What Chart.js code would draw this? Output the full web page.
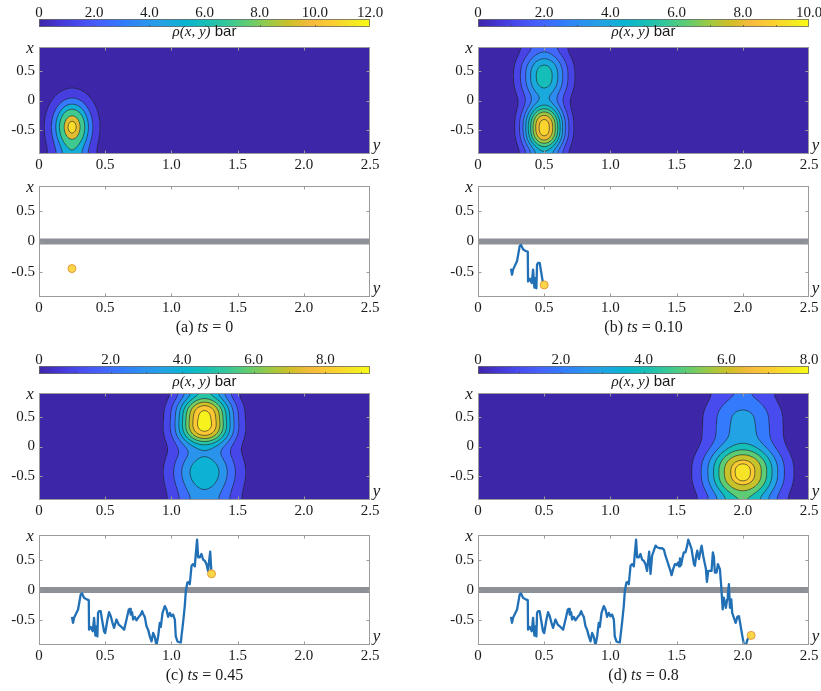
<!DOCTYPE html>
<html>
<head>
<meta charset="utf-8">
<script src="https://cdn.jsdelivr.net/npm/chart.js@4.4.1/dist/chart.umd.min.js"></script>
<style>
  html, body { margin: 0; padding: 0; background: #fff; overflow: hidden; }
  #fig { position: relative; width: 821px; height: 691px; overflow: hidden; }
  #fig canvas { position: absolute; }
</style>
</head>
<body>
<div id="fig"></div>
<script>
// ---- data ----
const panelTags = ['(a)', '(b)', '(c)', '(d)'];
const tsLabels = ['0', '0.10', '0.45', '0.8'];

// horizontal axis is labelled "y", vertical axis "x"
const yTicks = [0, 0.5, 1.0, 1.5, 2.0, 2.5];
const xTicks = [-0.5, 0, 0.5];
const yRange = [0, 2.5];
const xRange = [-0.92, 0.92];

// colour bars
const cbMax = [12, 10, 9.25, 8];
const cbTicks = [[0, 2, 4, 6, 8, 10, 12], [0, 2, 4, 6, 8, 10], [0, 2, 4, 6, 8], [0, 2, 4, 6, 8]];
const cbMinorStep = [2, 1, 1, 1];
const contourLevels = [
  [1, 3, 5, 7, 9.5, 11],
  [1, 2, 3, 4, 5, 6, 7, 8, 9],
  [1, 2, 3, 4, 5, 6, 7, 8, 9],
  [1, 2, 3, 4, 5, 6, 7, 7.5]
];

// density lobes rho(x, y): one entry per lobe
const blobPanel = [0, 1, 1, 2, 2, 3, 3];
const blobY     = [0.25, 0.5, 0.5, 1.25, 1.25, 2.0, 2.0];
const blobX     = [-0.45, -0.47, 0.42, 0.47, -0.42, -0.45, 0.42];
const blobAmp   = [11.5, 9.6, 5.6, 9.3, 4.75, 7.8, 3.3];
const blobSy    = [0.095, 0.105, 0.125, 0.145, 0.175, 0.19, 0.195];
const blobSx    = [0.30, 0.30, 0.33, 0.33, 0.36, 0.34, 0.36];
const blobPow   = [2, 2.5, 2.5, 3, 2, 2.5, 2.5];

// particle trajectory (full path, panel d)
const trajY = [0.249,0.257,0.265,0.295,0.315,0.325,0.340,0.360,0.376,0.378,0.391,0.406,0.416,0.426,0.434,0.441,0.446,0.454,0.466,0.476,0.491,0.500,
  0.517,0.529,0.542,0.555,0.567,0.585,0.602,0.623,0.643,0.661,0.678,0.688,0.693,0.703,0.711,0.723,0.736,0.754,0.769,0.779,0.789,0.799,0.812,0.824,0.837,0.850,0.862,0.875,0.887,0.900,0.912,0.920,0.933,0.950,0.963,0.975,0.988,1.000,1.013,1.026,1.033,1.046,1.056,1.071,1.076,1.088,1.101,1.109,1.121,1.131,1.139,1.152,1.164,1.177,1.182,1.194,1.202,1.215,1.227,1.240,1.252,1.265,1.277,1.285,1.293,1.303,
  1.315,1.328,1.341,1.353,1.373,1.391,1.404,1.416,1.429,1.441,1.454,1.462,1.474,1.487,1.500,1.512,1.519,1.525,1.534,1.545,1.555,1.567,1.580,1.588,1.600,1.613,1.621,1.631,1.638,1.648,1.656,1.669,1.681,1.689,1.701,1.711,1.721,1.729,1.739,1.751,1.764,1.774,1.782,1.789,1.802,1.812,1.827,1.837,1.848,1.857,1.872,1.882,1.887,1.895,1.903,1.913,1.920,1.933,1.946,1.959,1.971,1.984,1.997,2.010,2.022,2.035,2.048,2.063];
const trajX = [-0.449,-0.550,-0.466,-0.325,-0.073,-0.056,-0.130,-0.157,-0.169,-0.663,-0.618,-0.690,-0.466,-0.764,-0.607,-0.776,-0.382,-0.354,-0.354,-0.494,-0.690,-0.720,
  -0.494,-0.371,-0.438,-0.550,-0.634,-0.494,-0.578,-0.618,-0.663,-0.494,-0.325,-0.315,-0.410,-0.371,-0.494,-0.449,-0.506,-0.449,-0.410,-0.354,-0.410,-0.449,-0.607,-0.663,-0.776,-0.860,-0.718,-0.786,-0.930,-0.776,-0.550,-0.618,-0.382,-0.270,-0.325,-0.449,-0.382,-0.438,-0.410,-0.494,-0.776,-0.860,-0.870,-0.877,-0.776,-0.550,-0.270,-0.017,0.124,0.135,0.096,0.405,0.433,0.395,0.546,0.843,0.546,0.546,0.602,0.506,0.489,0.433,0.320,0.489,0.641,0.270,
  0.573,0.658,0.742,0.715,0.698,0.698,0.675,0.573,0.489,0.405,0.320,0.248,0.349,0.433,0.416,0.462,0.395,0.530,0.416,0.546,0.630,0.630,0.742,0.843,0.770,0.686,0.573,0.433,0.405,0.573,0.658,0.518,0.658,0.742,0.573,0.462,0.361,0.135,0.320,0.320,0.320,0.630,0.546,0.293,0.293,0.433,0.349,0.067,-0.325,-0.128,-0.297,-0.157,-0.073,0.096,-0.297,-0.157,-0.382,-0.466,-0.550,-0.449,-0.438,-0.607,-0.776,-0.930,-0.930,-0.831,-0.786,-0.759];

// particle position at each ts
const dotY = [0.249, 0.500, 1.303, 2.063];
const dotX = [-0.449, -0.720, 0.270, -0.759];

// membrane at x = 0
const wallY = [0, 2.5];
const wallX = [0, 0];

// ---- layout ----
const colLeft = [39, 478];
const plotW = 331;
const rowCbTop = [19, 366];
const rowContourTop = [47, 393];
const rowTrajTop = [186, 535];
const rowTrajH = [111, 110];
const cbLabelDrop = [9.3, 12.2];
const contourH = 107, cbH = 8;

const serifFamily = "'Liberation Serif', 'Times New Roman', serif";
const sansFamily = "'Liberation Sans', Arial, sans-serif";
Chart.defaults.font.family = serifFamily;

// parula colormap (MATLAB default), every 4th entry of the 64-colour table
const parulaRGB = [
  [0.2422,0.1504,0.6603],[0.2706,0.2147,0.8364],[0.2813,0.3006,0.9414],[0.2699,0.3892,0.9906],
  [0.1963,0.4847,0.9892],[0.1687,0.5703,0.9359],[0.1248,0.6459,0.8883],[0.0297,0.7082,0.8163],
  [0.0964,0.7500,0.7120],[0.2161,0.7843,0.5923],[0.3909,0.8029,0.4354],[0.6174,0.7876,0.2612],
  [0.8203,0.7498,0.1535],[0.9728,0.7298,0.2394],[0.9892,0.8136,0.1885],[0.9597,0.9135,0.1423],
  [0.9769,0.9839,0.0805]];
const parulaPos = [0,4,8,12,16,20,24,28,32,36,40,44,48,52,56,60,63].map(i => i / 63);

function parula(t) {
  t = Math.min(1, Math.max(0, t));
  let i = 0;
  while (i < parulaPos.length - 2 && t > parulaPos[i + 1]) i++;
  const f = (t - parulaPos[i]) / (parulaPos[i + 1] - parulaPos[i]);
  const a = parulaRGB[i], b = parulaRGB[i + 1];
  return [0, 1, 2].map(k => Math.round(255 * (a[k] + (b[k] - a[k]) * f)));
}
const rgb = c => `rgb(${c[0]},${c[1]},${c[2]})`;

// density of panel p at (y, x); the channel walls reflect
function field(p, yv, xv) {
  const w = xRange[1];
  let s = 0;
  for (let b = 0; b < blobPanel.length; b++) {
    if (blobPanel[b] !== p) continue;
    const dy = (yv - blobY[b]) / blobSy[b];
    let gx = 0;
    for (const x0 of [blobX[b], 2 * w - blobX[b], -2 * w - blobX[b]]) {
      const dx = Math.abs(xv - x0) / blobSx[b];
      gx += Math.exp(-0.5 * Math.pow(dx, blobPow[b]));
    }
    s += blobAmp[b] * Math.exp(-0.5 * dy * dy) * gx;
  }
  return s;
}

const fmtTick = v => (v === 0 ? '0' : v.toFixed(1));
const tickFont = () => ({ family: serifFamily, size: 15, lineHeight: 1 });

function hAxis(position, ticks, min, max, height, pad) {
  return {
    type: 'linear', position, min, max,
    afterBuildTicks: s => { s.ticks = ticks.map(v => ({ value: v })); },
    afterFit: s => { s.height = height; s.paddingLeft = 0; s.paddingRight = 0; },
    grid: { display: false, drawTicks: false },
    border: { display: false },
    ticks: { callback: fmtTick, autoSkip: false, maxRotation: 0, minRotation: 0, padding: pad, color: '#1a1a1a', font: tickFont() }
  };
}
function vAxis(ticks, min, max) {
  return {
    type: 'linear', position: 'left', min, max,
    afterBuildTicks: s => { s.ticks = ticks.map(v => ({ value: v })); },
    afterFit: s => { s.width = 39; s.paddingTop = 0; s.paddingBottom = 0; },
    grid: { display: false, drawTicks: false },
    border: { display: false },
    ticks: { callback: fmtTick, autoSkip: false, padding: 4, color: '#1a1a1a', font: tickFont() }
  };
}
function baseOptions(padding, scales, pluginOpts) {
  return {
    responsive: false, animation: false, devicePixelRatio: 1, events: [],
    layout: { padding }, scales,
    plugins: Object.assign({ legend: { display: false }, tooltip: { enabled: false } }, pluginOpts)
  };
}

const fig = document.getElementById('fig');
function makeCanvas(left, top, w, h) {
  const c = document.createElement('canvas');
  c.width = w; c.height = h;
  c.style.left = left + 'px'; c.style.top = top + 'px';
  c.style.width = w + 'px'; c.style.height = h + 'px';
  fig.appendChild(c);
  return c;
}

// draws text pieces [text, font] centred on cx
function drawRich(ctx, parts, cx, baseline) {
  let total = 0;
  parts.forEach(([t, f]) => { ctx.font = f; total += ctx.measureText(t).width; });
  let x = cx - total / 2;
  ctx.textAlign = 'left'; ctx.textBaseline = 'alphabetic';
  parts.forEach(([t, f]) => { ctx.font = f; ctx.fillText(t, x, baseline); x += ctx.measureText(t).width; });
}

// ---- plugins ----
const colorbarPlugin = {
  id: 'colorbar',
  afterDatasetsDraw(chart, args, opts) {
    const { ctx, chartArea: a, scales: { x } } = chart;
    const p = opts.panel, cmax = cbMax[p];
    const g = ctx.createLinearGradient(a.left, 0, a.right, 0);
    for (let i = 0; i <= 64; i++) {
      const v = cmax * i / 64;
      g.addColorStop((x.getPixelForValue(v) - a.left) / (a.right - a.left), rgb(parula(v / cmax)));
    }
    ctx.save();
    ctx.fillStyle = g;
    ctx.fillRect(a.left, a.top, a.right - a.left, a.bottom - a.top);
    ctx.strokeStyle = 'rgba(60,60,60,0.85)';
    ctx.lineWidth = 0.8;
    ctx.beginPath();
    for (let v = cbMinorStep[p]; v < cmax; v += cbMinorStep[p]) {
      const px = Math.round(x.getPixelForValue(v)) + 0.5;
      ctx.moveTo(px, a.bottom); ctx.lineTo(px, a.bottom - 2);
    }
    ctx.stroke();
    ctx.strokeStyle = '#6a6a6a';
    ctx.strokeRect(a.left + 0.5, a.top + 0.5, a.right - a.left - 1, a.bottom - a.top - 1);
    ctx.fillStyle = '#1a1a1a';
    drawRich(ctx, [['\u03c1(x, y)', `italic 15px ${serifFamily}`], [' bar', `15px ${sansFamily}`]],
      (a.left + a.right) / 2, a.bottom + opts.labelDrop);
    ctx.restore();
  }
};

const contourPlugin = {
  id: 'contourFill',
  beforeDatasetsDraw(chart, args, opts) {
    const { ctx, chartArea: a, scales: { x, y } } = chart;
    const p = opts.panel, levels = contourLevels[p], cmax = cbMax[p];
    const bandRGB = [parula(0)].concat(levels.map(L => parula(L / cmax)));
    const W = Math.round(a.right - a.left), H = Math.round(a.bottom - a.top);
    const off = document.createElement('canvas');
    off.width = W; off.height = H;
    const octx = off.getContext('2d');
    const img = octx.createImageData(W, H);
    for (let j = 0; j < H; j++) {
      const xv = y.getValueForPixel(a.top + j + 0.5);
      for (let i = 0; i < W; i++) {
        const f = field(p, x.getValueForPixel(a.left + i + 0.5), xv);
        let k = 0;
        while (k < levels.length && f >= levels[k]) k++;
        const c = bandRGB[k], o = 4 * (j * W + i);
        img.data[o] = c[0]; img.data[o + 1] = c[1]; img.data[o + 2] = c[2]; img.data[o + 3] = 255;
      }
    }
    octx.putImageData(img, 0, 0);
    ctx.drawImage(off, a.left, a.top);

    // contour lines by marching squares on the pixel corners
    const grid = [];
    for (let j = 0; j <= H; j++) {
      const xv = y.getValueForPixel(a.top + j), row = [];
      for (let i = 0; i <= W; i++) row.push(field(p, x.getValueForPixel(a.left + i), xv));
      grid.push(row);
    }
    const corner = [[0, 0], [1, 0], [1, 1], [0, 1]];
    ctx.save();
    ctx.beginPath(); ctx.rect(a.left, a.top, W, H); ctx.clip();
    ctx.strokeStyle = 'rgba(30,30,30,0.85)';
    ctx.lineWidth = 0.7;
    for (const L of levels) {
      ctx.beginPath();
      for (let j = 0; j < H; j++) {
        for (let i = 0; i < W; i++) {
          const v = [grid[j][i], grid[j][i + 1], grid[j + 1][i + 1], grid[j + 1][i]];
          const pts = [];
          for (let e = 0; e < 4; e++) {
            const v0 = v[e], v1 = v[(e + 1) % 4];
            if ((v0 >= L) !== (v1 >= L)) {
              const t = (L - v0) / (v1 - v0), c0 = corner[e], c1 = corner[(e + 1) % 4];
              pts.push([a.left + i + c0[0] + (c1[0] - c0[0]) * t, a.top + j + c0[1] + (c1[1] - c0[1]) * t]);
            }
          }
          for (let s = 0; s + 1 < pts.length; s += 2) {
            ctx.moveTo(pts[s][0], pts[s][1]); ctx.lineTo(pts[s + 1][0], pts[s + 1][1]);
          }
        }
      }
      ctx.stroke();
    }
    ctx.restore();
  }
};

const framePlugin = {
  id: 'frame',
  afterDraw(chart, args, opts) {
    const { ctx, chartArea: a, scales: { x, y } } = chart;
    ctx.save();
    ctx.strokeStyle = '#9b9b9b';
    ctx.lineWidth = 1;
    ctx.strokeRect(a.left + 0.5, a.top + 0.5, a.right - a.left - 1, a.bottom - a.top - 1);
    ctx.beginPath();
    x.ticks.forEach(t => {
      const px = Math.round(x.getPixelForValue(t.value)) + 0.5;
      if (px < a.left + 2 || px > a.right - 2) return;
      ctx.moveTo(px, a.top); ctx.lineTo(px, a.top + 3.5);
      ctx.moveTo(px, a.bottom); ctx.lineTo(px, a.bottom - 3.5);
    });
    y.ticks.forEach(t => {
      const py = Math.round(y.getPixelForValue(t.value)) + 0.5;
      ctx.moveTo(a.left, py); ctx.lineTo(a.left + 3.5, py);
      ctx.moveTo(a.right, py); ctx.lineTo(a.right - 3.5, py);
    });
    ctx.stroke();
    ctx.fillStyle = '#1a1a1a';
    ctx.font = `italic 17px ${serifFamily}`;
    ctx.textAlign = 'center';
    ctx.textBaseline = 'alphabetic';
    ctx.fillText('x', a.left - 9, a.top + 6);
    ctx.fillText('y', a.right + 6.5, a.bottom - 4);
    if (opts.caption) {
      const f = `16px ${serifFamily}`;
      drawRich(ctx, [[opts.caption[0] + ' ', f], ['ts', `italic 16px ${serifFamily}`], [' = ' + opts.caption[1], f]],
        (a.left + a.right) / 2, a.bottom + 35);
    }
    ctx.restore();
  }
};

// ---- build the four panels ----
const canvasW = 39 + plotW + 12;
for (let p = 0; p < 4; p++) {
  const r = Math.floor(p / 2), left = colLeft[p % 2] - 39;

  // colour bar
  const cbCanvas = makeCanvas(left, rowCbTop[r] - 19, canvasW + 6, 44);
  new Chart(cbCanvas, {
    type: 'scatter',
    data: { datasets: [] },
    options: baseOptions({ left: 39, right: 18, top: 0, bottom: 44 - 19 - cbH },
      { x: hAxis('top', cbTicks[p], 0, cbMax[p], 19, -2), y: { display: false, min: 0, max: 1 } },
      { colorbar: { panel: p, labelDrop: cbLabelDrop[r] } }),
    plugins: [colorbarPlugin]
  });

  // density contour
  const ctCanvas = makeCanvas(left, rowContourTop[r] - 12, canvasW, 12 + contourH + 22);
  new Chart(ctCanvas, {
    type: 'scatter',
    data: { datasets: [] },
    options: baseOptions({ left: 0, right: 12, top: 12, bottom: 0 },
      { x: hAxis('bottom', yTicks, yRange[0], yRange[1], 22, 3.5), y: vAxis(xTicks, xRange[0], xRange[1]) },
      { contourFill: { panel: p }, frame: {} }),
    plugins: [contourPlugin, framePlugin]
  });

  // trajectory
  const pathPts = [];
  trajY.forEach((v, i) => { if (v <= dotY[p] + 1e-9) pathPts.push({ x: v, y: trajX[i] }); });
  const trH = rowTrajH[r];
  const trCanvas = makeCanvas(left, rowTrajTop[r] - 12, canvasW, 12 + trH + 22 + 24);
  new Chart(trCanvas, {
    type: 'scatter',
    data: {
      datasets: [
        { data: [{ x: dotY[p], y: dotX[p] }], pointRadius: 4, pointBackgroundColor: '#f8d648',
          pointBorderColor: '#e59a3a', pointBorderWidth: 1, clip: false },
        { data: pathPts, showLine: true, borderColor: '#2170b6', borderWidth: 2.3, pointRadius: 0,
          borderJoinStyle: 'round', tension: 0, clip: 0 },
        { data: wallY.map((v, i) => ({ x: v, y: wallX[i] })), showLine: true, borderColor: '#8d9096',
          borderWidth: 6, pointRadius: 0, borderCapStyle: 'butt' }
      ]
    },
    options: baseOptions({ left: 0, right: 12, top: 12, bottom: 24 },
      { x: hAxis('bottom', yTicks, yRange[0], yRange[1], 22, 3.5), y: vAxis(xTicks, xRange[0], xRange[1]) },
      { frame: { caption: [panelTags[p], tsLabels[p]] } }),
    plugins: [framePlugin]
  });
}
</script>
</body>
</html>
